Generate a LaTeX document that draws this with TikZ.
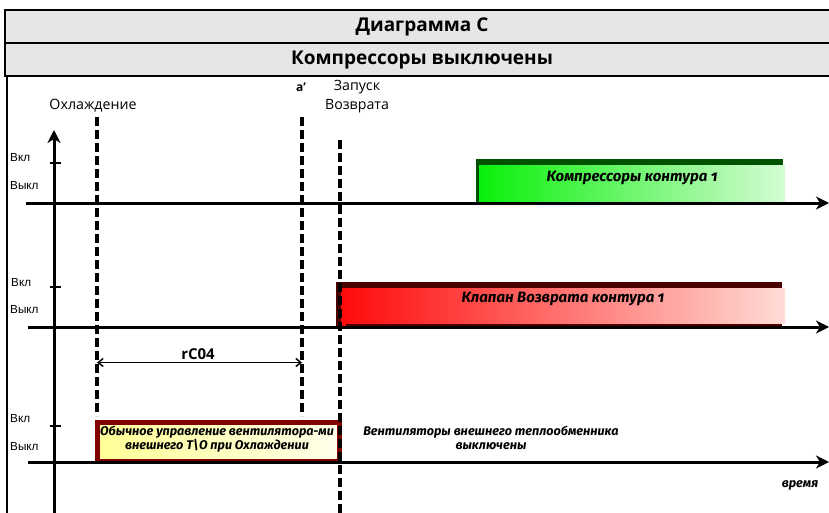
\documentclass[tikz,border=0pt]{standalone}
\usepackage{fontspec}
\setmainfont{Open Sans}
\newfontfamily\headfont{Open Sans}
\newfontfamily\tickfont{Liberation Sans}
\newfontfamily\barfont[Numbers=OldStyle]{Fira Sans}
\usetikzlibrary{arrows.meta}
\definecolor{hdrgray}{HTML}{E6E6E6}
\definecolor{dkgreen}{HTML}{005200}
\definecolor{dkred}{HTML}{4D0000}
\definecolor{boxred}{HTML}{800000}
\definecolor{greenL}{RGB}{10,240,10}
\definecolor{greenR}{RGB}{212,252,212}
\definecolor{redL}{RGB}{255,10,10}
\definecolor{redR}{RGB}{255,220,214}
\definecolor{yelL}{RGB}{255,255,150}
\definecolor{yelR}{RGB}{255,255,235}
\tikzset{
  axisline/.style={line width=3pt, -{Stealth[length=13pt,width=13pt,inset=4pt]}},
  eventline/.style={line width=4pt, dash pattern=on 9pt off 4pt},
  tickmark/.style={line width=2pt},
  onoff/.style={font=\tickfont\fontsize{11.7}{13}\selectfont, anchor=west, inner sep=0pt},
  header/.style={font=\headfont\bfseries\fontsize{19}{21}\selectfont},
  toplabel/.style={font=\fontsize{14.2}{16}\selectfont, inner sep=0pt},
  barlabel/.style={font=\barfont\bfseries\itshape\fontsize{15}{17}\selectfont, inner sep=0pt, align=center},
  smalllabel/.style={font=\barfont\bfseries\itshape\fontsize{12.6}{14}\selectfont, inner sep=0pt, align=center}
}
\begin{document}
\begin{tikzpicture}[x=1pt,y=-1pt]
\useasboundingbox (0,0) rectangle (829,513);
\begin{scope}
\clip (0,0) rectangle (829,513);
% header rows
\draw[line width=1.6pt, fill=hdrgray] (5,10) rectangle (840,43);
\draw[line width=1.6pt, fill=hdrgray] (5,43) rectangle (840,76);
\node[header] (title) at (422,27) {Диаграмма С};
\node[header] (subtitle) at (422,60) {Компрессоры выключены};
% left frame line
\draw[line width=2pt] (7,76) -- (7,513);

% event labels
\node[toplabel] (cool) at (93,106) {Охлаждение};
\node[inner sep=0pt, font=\bfseries\fontsize{12}{13}\selectfont] (aprime) at (301,87) {a'};
\node[toplabel] (start) at (357,87) {Запуск};
\node[toplabel] (ret) at (357,106) {Возврата};

% green bar: compressors of circuit 1
\fill[dkgreen] (476,159) rectangle (783,203);
\fill[left color=greenL, right color=greenR] (479,166) rectangle (785,203);
\node[barlabel] (comp) at (632,178) {Компрессоры контура 1};

% red bar: return valve of circuit 1
\fill[dkred] (336,282) rectangle (782,327);
\fill[left color=redL, right color=redR] (341,288) rectangle (785,323);
\fill[redL] (341,322) rectangle (346,327);
\node[barlabel] (valve) at (563,299) {Клапан Возврата контура 1};

% yellow box: fan control
\draw[line width=4.5pt, draw=boxred, left color=yelL, right color=yelR] (97.5,422.5) rectangle (339.5,461.5);
\node[smalllabel] (fanctl) at (217,439) {Обычное управление вентилятора-ми\\внешнего Т\textbackslash О при Охлаждении};
\node[smalllabel] (fanoff) at (491,438) {Вентиляторы внешнего теплообменника\\выключены};
\node[smalllabel] (time) at (800,485) {время};

% dashed event lines
\coordinate (e1t) at (97,117);
\coordinate (e1b) at (97,416);
\coordinate (e2t) at (302,117);
\coordinate (e2b) at (302,416);
\coordinate (e3t) at (340,140);
\coordinate (e3b) at (340,513);
\draw[eventline] (e1t) -- (e1b);
\draw[eventline] (e2t) -- (e2b);
\draw[eventline] (e3t) -- (e3b);

% axes
\coordinate (yb) at (54,513);
\coordinate (yt) at (54,130);
\draw[axisline] (yb) -- (yt);
\coordinate (a1s) at (26,203);
\coordinate (a1e) at (829,203);
\coordinate (a2s) at (28,327);
\coordinate (a2e) at (829,327);
\coordinate (a3s) at (28,462);
\coordinate (a3e) at (829,462);
\draw[axisline] (a1s) -- (a1e);
\draw[axisline] (a2s) -- (a2e);
\draw[axisline] (a3s) -- (a3e);

% on/off ticks and labels
\draw[tickmark] (50,163) -- (61,163);
\draw[tickmark] (50,287) -- (61,287);
\draw[tickmark] (50,426) -- (61,426);
\node[onoff] (on1) at (10,158) {Вкл};
\node[onoff] (off1) at (10,186) {Выкл};
\node[onoff] (on2) at (11,283) {Вкл};
\node[onoff] (off2) at (10,310) {Выкл};
\node[onoff] (on3) at (10,419) {Вкл};
\node[onoff] (off3) at (10,447) {Выкл};

% rC04 delay
\coordinate (d1) at (97,362.5);
\coordinate (d2) at (302,362.5);
\draw[line width=1.5pt, {Straight Barb[length=5pt,width=8pt]}-{Straight Barb[length=5pt,width=8pt]}] (d1) -- (d2);
\node[inner sep=0pt, font=\headfont\bfseries\fontsize{15}{16}\selectfont] (rc) at (198,354) {rC04};
\end{scope}
\end{tikzpicture}
\end{document}
